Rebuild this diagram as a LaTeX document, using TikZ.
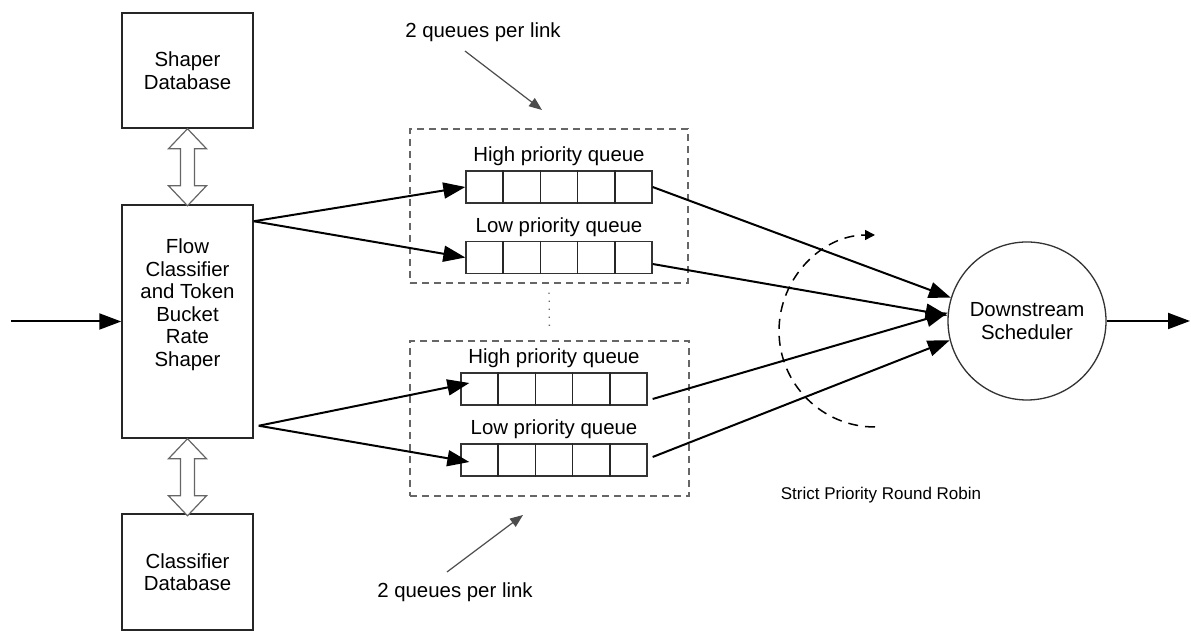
\documentclass[tikz,border=0pt]{standalone}
\usepackage{fontspec}
\setmainfont{Liberation Sans}
\usetikzlibrary{calc,positioning,arrows.meta}

% hollow two-headed arrow, upper tip at #1
\newcommand{\dbarrow}[1]{%
  \draw[draw=black!60,line width=1.2pt,fill=white] (#1) -- ++(19,-20) -- ++(-12,0) -- ++(0,-37) -- ++(12,0)
    -- ++(-19,-20) -- ++(-19,20) -- ++(12,0) -- ++(0,37) -- ++(-12,0) -- cycle;}
% four dividers inside a queue
\newcommand{\cells}[1]{%
  \foreach \k in {1,...,4}
    \draw[line width=1.4pt,black!85] ($(#1.north west)!\k/5!(#1.north east)$) -- ($(#1.south west)!\k/5!(#1.south east)$);}

\begin{document}
\begin{tikzpicture}[x=1pt,y=1pt,font=\fontsize{20.4}{22.5}\selectfont,
  box/.style={draw=black!85,line width=1.5pt,minimum width=131pt,align=center},
  queue/.style={draw=black!80,line width=1.3pt,minimum width=186pt,minimum height=32pt,inner sep=0pt},
  grp/.style={draw=black!60,dash pattern=on 7pt off 5pt,line width=1.3pt},
  link/.style={line width=2pt,-{Triangle[length=22pt,width=16pt]}},
  note/.style={draw=black!70,line width=1.2pt,-{Triangle[length=13pt,width=10pt]}}]
\fill[white] (0,0) rectangle (1191,631);
\useasboundingbox (0,0) rectangle (1191,631);

\node[box,minimum height=115pt] (shaper) at (187.5,560.5) {Shaper\\Database};
\node[box,minimum height=233pt] (flow) at (187.5,309.5) {};
\node[align=center] (flowtext) at (187.5,326.5) {Flow\\Classifier\\and Token\\Bucket\\Rate\\Shaper};
\node[box,minimum height=116pt] (classdb) at (187.5,59) {Classifier\\Database};
\dbarrow{shaper.south}
\dbarrow{flow.south}

% queue groups
\node[grp,minimum width=278pt,minimum height=154pt] (grp1) at (549,425) {};
\node[grp,minimum width=279pt,minimum height=155pt] (grp2) at (549.5,212.5) {};
\draw[black!60,line width=1.3pt,dash pattern=on 1.3pt off 6.7pt,shorten >=9pt,shorten <=9pt] (grp1.south) -- (grp2.north);

\node[queue] (qh1) at (559,444) {}; \cells{qh1}
\node[queue] (ql1) at (559,373.5) {}; \cells{ql1}
\node[queue] (qh2) at (554,242) {}; \cells{qh2}
\node[queue] (ql2) at (554,171) {}; \cells{ql2}
\node[above=1pt of qh1] (lh1) {High priority queue};
\node[above=1pt of ql1] (ll1) {Low priority queue};
\node[above=1pt of qh2] (lh2) {High priority queue};
\node[above=1pt of ql2] (ll2) {Low priority queue};

\node[draw=black!80,circle,minimum size=158pt,line width=1.3pt,align=center,inner sep=0pt] (sched) at (1027,310) {Downstream\\Scheduler};

\coordinate (in) at (11,309.5);
\coordinate (out) at (1190,310);
\draw[link] (in) -- (flow.west);
\draw[link] ([yshift=-17pt]flow.north east) -- (qh1.west);
\draw[link] ([yshift=-17pt]flow.north east) -- (ql1.west);
\draw[link] ([xshift=5pt,yshift=13pt]flow.south east) -- ([xshift=9pt,yshift=6pt]qh2.west);
\draw[link] ([xshift=5pt,yshift=13pt]flow.south east) -- ([xshift=9pt,yshift=-2pt]ql2.west);
\draw[link] (qh1.east) -- (sched.163);
\draw[link] ([yshift=-6.5pt]ql1.east) -- (sched.176);
\draw[link] ([xshift=5pt,yshift=-10pt]qh2.east) -- (sched.174);
\draw[link] ([xshift=5pt,yshift=3pt]ql2.east) -- (sched.194);
\draw[link] (sched.east) -- (out);

% round robin sweep
\draw[dash pattern=on 10pt off 7pt,line width=1.5pt,-{Triangle[length=10pt,width=10pt]}] (875,204) arc[start angle=270,end angle=90,radius=96];
\node[font=\fontsize{17}{20}\selectfont] (sprr) at (881,136) {Strict Priority Round Robin};

\node (note1) at (483,599) {2 queues per link};
\coordinate (tip1) at (542,521);
\draw[note] ([xshift=-18pt,yshift=-6pt]note1.south) -- (tip1);
\node (note2) at (455,39) {2 queues per link};
\coordinate (tip2) at (523,116);
\draw[note] ([xshift=-8pt,yshift=7pt]note2.north) -- (tip2);
\end{tikzpicture}
\end{document}
